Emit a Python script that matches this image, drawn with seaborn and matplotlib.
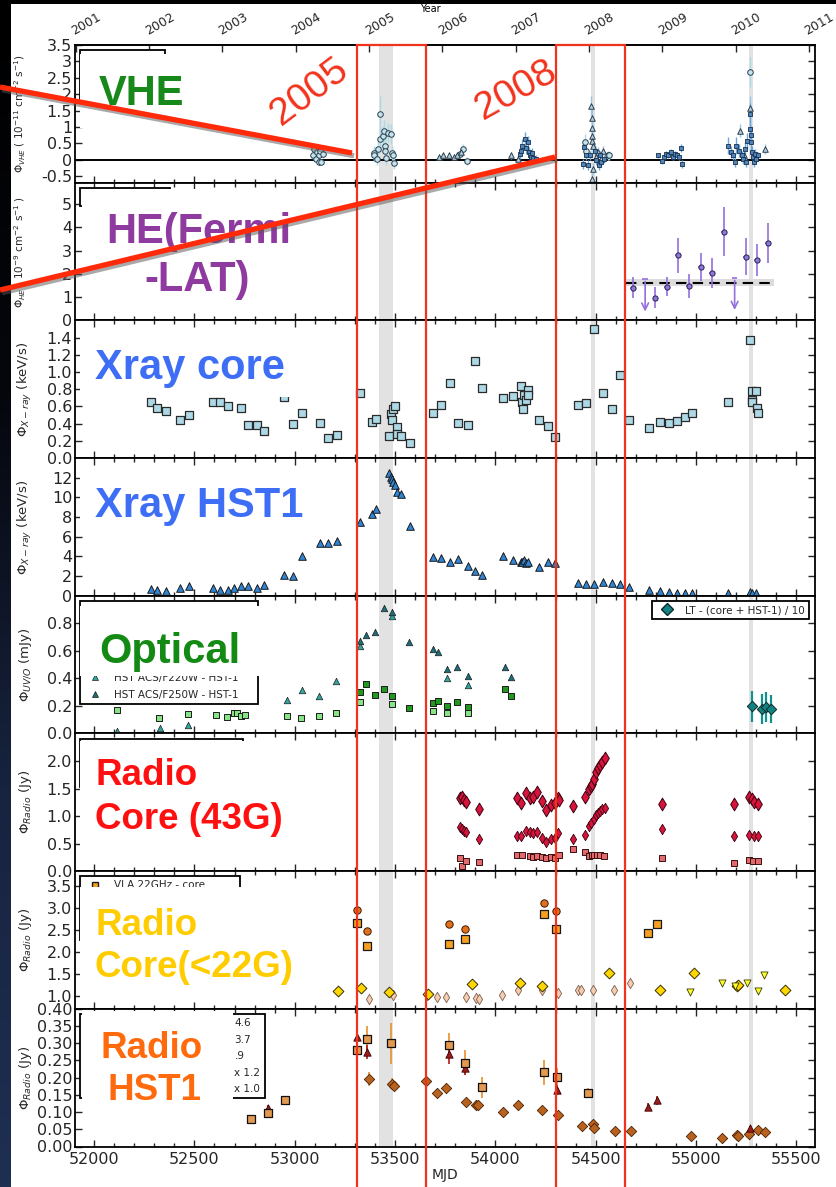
import numpy as np
import matplotlib
matplotlib.use("Agg")
import matplotlib.pyplot as plt
import seaborn as sns
from matplotlib.lines import Line2D
from matplotlib.patches import Rectangle
from matplotlib.ticker import MultipleLocator, FixedLocator
import matplotlib.patheffects as pe

# ------------------------------------------------------------------ data
years = [2001, 2002, 2003, 2004, 2005, 2006, 2007, 2008, 2009, 2010, 2011]
year_mjd = [51910, 52275, 52640, 53005, 53371, 53736, 54101, 54466, 54832, 55197, 55562]

highlight_bands = [(53422, 53488), (54475, 54495), (55263, 55285)]
flare_boxes = [(53310, 53653), (54302, 54645)]
flare_labels = ["2005", "2008"]

# VHE (three instruments)
vhe_hess_mjd = [53093, 53098, 53105, 53111, 53119, 53119, 53127, 53133, 53141,
                53393, 53396, 53408, 53416, 53425, 53427, 53438, 53443, 53448, 53452, 53457, 53464, 53478, 53483, 53490, 53496,
                53825, 53836, 53857,
                54446, 54451, 54560, 54568,
                55268]
vhe_hess_flux = [0.13, 0.33, 0.03, 0.23, 0.13, -0.07, 0.28, -0.07, 0.18,
                 0.21, 0.13, 0.03, 0.33, 1.40, 0.63, 0.73, 0.88, 0.43, 0.28, 0.05, 0.83, 0.78, 0.21, 0.13, -0.10,
                 0.18, 0.33, -0.05,
                 0.53, 0.28, 0.13, 0.13,
                 2.67]
vhe_hess_err = [0.12, 0.12, 0.10, 0.12, 0.10, 0.10, 0.12, 0.10, 0.12,
                0.22, 0.20, 0.20, 0.25, 0.55, 0.28, 0.30, 0.32, 0.25, 0.22, 0.20, 0.30, 0.30, 0.22, 0.20, 0.18,
                0.12, 0.15, 0.12,
                0.25, 0.20, 0.15, 0.15,
                0.45]
vhe_ver_mjd = [53719, 53738, 53769, 53796, 53809, 53830,
               54080, 54114,
               54478, 54479, 54480, 54481, 54483, 54486, 54480, 54488, 54499, 54512, 54525, 54535,
               55219, 55240, 55268, 55341]
vhe_ver_flux = [0.07, 0.13, 0.13, 0.09, 0.13, 0.23,
                0.13, 0.03,
                1.63, 1.28, 0.98, 0.73, 0.58, 0.43, -0.59, -0.27, 0.08, 0.23, 0.03, 0.28,
                0.88, 0.13, 1.58, 0.33]
vhe_ver_err = [0.08, 0.08, 0.08, 0.08, 0.08, 0.10,
               0.10, 0.10,
               0.30, 0.28, 0.25, 0.22, 0.20, 0.20, 0.20, 0.18, 0.15, 0.15, 0.15, 0.15,
               0.20, 0.15, 0.35, 0.15]
vhe_mag_mjd = [54122, 54128, 54133, 54149, 54154, 54162, 54168, 54173, 54178, 54184, 54189, 54200,
               54437, 54441, 54452, 54460, 54470, 54497, 54503, 54517, 54520, 54526, 54540,
               54810, 54828, 54838, 54850, 54860, 54873, 54883, 54893, 54904, 54914, 54925, 54930,
               55157, 55175, 55186, 55196, 55201, 55212, 55228, 55232, 55244, 55249, 55255, 55270, 55271,
               55272, 55274, 55278, 55284, 55289, 55295, 55300, 55306]
vhe_mag_flux = [0.18, 0.28, 0.43, 0.63, 0.35, 0.53, 0.23, 0.15, 0.08, 0.21, 0.05, 0.03,
                -0.12, 0.38, 0.13, -0.17, 0.13, 0.28, -0.02, -0.17, 0.13, -0.07, 0.03,
                0.13, -0.05, 0.08, 0.18, 0.13, 0.23, 0.08, 0.18, 0.13, 0.08, 0.35, -0.12,
                0.43, 0.23, 0.15, -0.07, 0.43, 0.28, 0.13, 0.03, 0.33, -0.07, 0.58, 1.38, 0.93,
                0.75, 0.53, 0.23, 0.08, -0.07, 0.18, 0.03, 0.13]
vhe_mag_err = [0.15, 0.18, 0.20, 0.22, 0.18, 0.20, 0.15, 0.15, 0.12, 0.15, 0.12, 0.12,
               0.15, 0.20, 0.15, 0.15, 0.15, 0.18, 0.15, 0.15, 0.15, 0.15, 0.12,
               0.08, 0.08, 0.08, 0.10, 0.08, 0.10, 0.08, 0.10, 0.08, 0.08, 0.12, 0.12,
               0.25, 0.18, 0.15, 0.15, 0.25, 0.20, 0.15, 0.15, 0.20, 0.15, 0.25, 0.35, 0.30,
               0.28, 0.25, 0.18, 0.15, 0.15, 0.15, 0.12, 0.12]

# HE (Fermi-LAT)
he_mjd = [54685, 54797, 54853, 54911, 54966, 55025, 55078, 55137, 55247, 55303, 55356]
he_flux = [1.41, 0.98, 1.45, 2.80, 1.48, 2.30, 2.03, 3.82, 2.74, 2.60, 3.34]
he_err = [0.45, 0.45, 0.40, 0.75, 0.50, 0.60, 0.65, 1.05, 0.80, 0.70, 0.85]
he_bin_half = [14, 14, 14, 14, 14, 14, 14, 14, 14, 14, 14]
he_ul_mjd = [54746, 55192]
he_ul_flux = [1.80, 1.84]
he_ul_low = [0.26, 0.33]
he_mean = 1.62
he_mean_err = 0.16
he_mean_span = [54653, 55388]

# X-ray core
xc_mjd = [52286, 52313, 52358, 52429, 52475, 52591, 52628, 52666, 52697, 52732, 52769, 52811, 52849, 52947,
          52992, 53037, 53127, 53167, 53210, 53324, 53384, 53403, 53470, 53478, 53483, 53491, 53498, 53509,
          53512, 53531, 53576, 53690, 53727, 53772, 53812, 53862, 53900, 53934, 54037, 54088, 54128, 54133,
          54136, 54141, 54154, 54162, 54164, 54218, 54260, 54295, 54411, 54451, 54491, 54537, 54581, 54619,
          54666, 54767, 54818, 54863, 54903, 54945, 54982, 55157, 55271, 55277, 55279, 55281, 55298, 55304, 55306]
xc_flux = [0.657, 0.587, 0.548, 0.446, 0.50, 0.657, 0.657, 0.602, 0.78, 0.587, 0.39, 0.383, 0.313, 0.71,
           0.391, 0.524, 0.403, 0.235, 0.266, 0.751, 0.422, 0.45, 0.258, 0.508, 0.442, 0.571, 0.602, 0.36,
           0.274, 0.258, 0.172, 0.52, 0.618, 0.872, 0.41, 0.383, 1.13, 0.813, 0.696, 0.716, 0.841, 0.657,
           0.571, 0.735, 0.677, 0.786, 0.735, 0.438, 0.375, 0.246, 0.614, 0.637, 1.498, 0.755, 0.575, 0.962,
           0.438, 0.352, 0.418, 0.41, 0.434, 0.477, 0.52, 0.653, 1.373, 0.782, 0.673, 0.649, 0.774, 0.579, 0.524]

# X-ray HST-1
xh_mjd = [52286, 52313, 52358, 52429, 52475, 52591, 52628, 52666, 52697, 52732, 52769, 52811, 52849, 52947,
          52992, 53037, 53127, 53167, 53210, 53324, 53384, 53403, 53470, 53478, 53483, 53491, 53498, 53509,
          53531, 53576, 53690, 53727, 53772, 53812, 53862, 53900, 53934, 54037, 54088, 54128, 54133, 54141,
          54154, 54162, 54218, 54260, 54295, 54411, 54451, 54491, 54537, 54581, 54619, 54666, 54767, 54818,
          54863, 54903, 54945, 54982, 55157, 55271, 55277, 55298]
xh_flux = [0.69, 0.55, 0.51, 0.75, 0.96, 0.75, 0.55, 0.58, 0.82, 0.99, 0.99, 0.79, 1.10, 2.09,
           1.99, 4.01, 5.35, 5.35, 5.59, 7.47, 8.30, 8.78, 12.44, 12.1, 11.86, 11.59, 11.24, 10.56,
           10.32, 7.13, 3.98, 3.81, 3.46, 3.74, 3.05, 2.5, 2.13, 4.01, 3.63, 3.46, 3.46, 3.63,
           3.29, 3.46, 2.95, 3.46, 3.33, 1.30, 1.20, 1.20, 1.44, 1.30, 1.20, 0.89, 0.55, 0.45,
           0.38, 0.31, 0.31, 0.31, 0.27, 0.34, 0.27, 0.27]

# Optical / UV
opt_f220_mjd = [52116, 52328, 52467, 52963, 53034, 53119, 53204, 53326, 53486, 53759, 53862]
opt_f220_flux = [0.02, 0.04, 0.06, 0.245, 0.318, 0.274, 0.384, 0.636, 0.856, 0.40, 0.355]
opt_f250_mjd = [53324, 53353, 53398, 53443, 53486, 53568, 53687, 53714, 53759, 53809, 53862, 54050, 54080]
opt_f250_flux = [0.673, 0.717, 0.739, 0.91, 0.881, 0.665, 0.612, 0.592, 0.47, 0.482, 0.416, 0.484, 0.411]
opt_sqa_mjd = [52116, 52325, 52467, 52610, 52664, 52695, 52713, 52730, 52754, 52963, 53031, 53121, 53204,
               53326, 53486, 53687, 53759, 53862]
opt_sqa_flux = [0.171, 0.11, 0.142, 0.137, 0.122, 0.147, 0.152, 0.127, 0.135, 0.127, 0.115, 0.127, 0.147,
                0.225, 0.215, 0.166, 0.147, 0.147]
opt_sqb_mjd = [53324, 53353, 53398, 53443, 53486, 53568, 53687, 53714, 53759, 53809, 53862, 54050, 54080]
opt_sqb_flux = [0.30, 0.362, 0.276, 0.325, 0.269, 0.188, 0.22, 0.232, 0.196, 0.228, 0.191, 0.323, 0.274]
lt_mjd = [55277, 55330, 55349, 55373]
lt_flux = [0.196, 0.176, 0.19, 0.176]
lt_err = [0.11, 0.11, 0.11, 0.10]

# Radio core 43 GHz
r43_a_mjd = [53823, 53831, 53841, 53854, 53918, 54109, 54128, 54154, 54170, 54189, 54207, 54234, 54252,
             54276, 54295, 54311, 54318, 54385, 54446, 54467, 54475, 54483, 54491, 54499, 54512, 54520,
             54531, 54544, 54829, 55190, 55263, 55277, 55290, 55306]
r43_a_flux = [1.32, 1.35, 1.29, 1.26, 1.12, 1.33, 1.24, 1.41, 1.32, 1.34, 1.43, 1.28, 1.11,
              1.20, 1.24, 1.32, 1.30, 1.19, 1.34, 1.49, 1.54, 1.59, 1.68, 1.80, 1.87, 1.93,
              1.99, 2.05, 1.22, 1.22, 1.34, 1.31, 1.26, 1.22]
r43_b_mjd = [53823, 53831, 53841, 53854, 53918, 54109, 54128, 54154, 54170, 54189, 54207, 54234, 54252,
             54276, 54295, 54311, 54385, 54446, 54467, 54478, 54491, 54499, 54512, 54520, 54531, 54544,
             54829, 55190, 55263, 55290, 55306]
r43_b_flux = [0.80, 0.77, 0.73, 0.71, 0.58, 0.64, 0.63, 0.73, 0.71, 0.70, 0.71, 0.61, 0.52,
              0.58, 0.61, 0.69, 0.58, 0.65, 0.82, 0.87, 0.95, 1.01, 1.05, 1.10, 1.13, 1.14,
              0.77, 0.64, 0.65, 0.64, 0.63]
r43_c_mjd = [53823, 53831, 53854, 53918, 54109, 54133, 54170, 54189, 54207, 54234, 54252, 54276, 54295,
             54318, 54385, 54446, 54467, 54480, 54493, 54506, 54520, 54539, 54829, 55190, 55263, 55285, 55306]
r43_c_flux = [0.23, 0.10, 0.18, 0.17, 0.29, 0.29, 0.27, 0.26, 0.27, 0.26, 0.24, 0.26, 0.23,
              0.30, 0.40, 0.35, 0.27, 0.30, 0.29, 0.29, 0.29, 0.27, 0.24, 0.15, 0.20, 0.18, 0.18]

# Radio core < 22 GHz
r22_circ_mjd = [53310, 53358, 53767, 53849, 54240, 54303]
r22_circ_flux = [2.97, 2.48, 2.63, 2.52, 3.11, 2.94]
r22_sq_mjd = [53310, 53358, 53767, 53849, 54240, 54303, 54759, 54807]
r22_sq_flux = [2.67, 2.13, 2.18, 2.29, 2.88, 2.52, 2.44, 2.65]
r22_gold_mjd = [53215, 53332, 53470, 53666, 53883, 54122, 54234, 54566, 54818, 54990, 55202, 55210, 55441]
r22_gold_flux = [1.10, 1.18, 1.08, 1.04, 1.27, 1.28, 1.22, 1.52, 1.12, 1.52, 1.22, 1.25, 1.14]
r22_tan_mjd = [53371, 53491, 53658, 53709, 53756, 53854, 53902, 53916, 54035, 54114, 54234, 54313, 54411,
               54424, 54486, 54592, 54672]
r22_tan_flux = [0.92, 1.02, 1.02, 0.98, 0.98, 0.96, 0.94, 0.92, 1.02, 1.12, 1.12, 1.06, 1.12,
                1.14, 1.13, 1.12, 1.28]
r22_tri_mjd = [54969, 55131, 55194, 55255, 55309, 55336]
r22_tri_flux = [1.08, 1.28, 1.23, 1.28, 1.10, 1.48]

# Radio HST-1
rh_sq_mjd = [52782, 52867, 52949, 53310, 53358, 53480, 53767, 53849, 53931, 54242, 54306, 54462]
rh_sq_flux = [0.081, 0.098, 0.134, 0.281, 0.311, 0.30, 0.296, 0.244, 0.172, 0.215, 0.203, 0.156]
rh_sq_err = [0.005, 0.008, 0.012, 0.03, 0.04, 0.06, 0.035, 0.035, 0.03, 0.035, 0.025, 0.015]
rh_tri_mjd = [52867, 53310, 53358, 53767, 53849, 54306, 54759, 54807, 55270]
rh_tri_flux = [0.112, 0.317, 0.275, 0.27, 0.229, 0.164, 0.115, 0.134, 0.054]
rh_tri_err = [0.01, 0.02, 0.02, 0.03, 0.02, 0.015, 0.01, 0.012, 0.006]
rh_dia_mjd = [53371, 53486, 53497, 53655, 53709, 53756, 53854, 53905, 53912, 54037, 54114, 54234, 54313,
              54430, 54486, 54490, 54597, 54674, 54974, 55131, 55202, 55210, 55263, 55306, 55341]
rh_dia_flux = [0.195, 0.183, 0.175, 0.191, 0.156, 0.171, 0.128, 0.122, 0.12, 0.101, 0.121, 0.106, 0.091,
               0.059, 0.066, 0.055, 0.046, 0.046, 0.031, 0.024, 0.034, 0.031, 0.036, 0.047, 0.042]
rh_dia_err = [0.02, 0.015, 0.012, 0.015, 0.01, 0.012, 0.01, 0.01, 0.01, 0.008, 0.008, 0.008, 0.008,
              0.006, 0.006, 0.006, 0.005, 0.005, 0.004, 0.004, 0.004, 0.004, 0.004, 0.004, 0.004]

# axis labels / ticks
ylabels = [r"$\Phi_{VHE}$ ( $10^{-11}$ cm$^{-2}$ s$^{-1}$)",
           r"$\Phi_{HE}$ ( $10^{-9}$ cm$^{-2}$ s$^{-1}$ )",
           r"$\Phi_{X-ray}$ (keV/s)",
           r"$\Phi_{X-ray}$ (keV/s)",
           r"$\Phi_{UV/O}$ (mJy)",
           r"$\Phi_{Radio}$ (Jy)",
           r"$\Phi_{Radio}$ (Jy)",
           r"$\Phi_{Radio}$ (Jy)"]
vhe_ticks = [-0.5, 0, 0.5, 1, 1.5, 2, 2.5, 3, 3.5]
vhe_ticklabels = ["-0.5", "0", "0.5", "1", "1.5", "2", "2.5", "3", "3.5"]
panel_titles = [["VHE"], ["HE(Fermi", "-LAT)"], ["Xray core"], ["Xray HST1"], ["Optical"],
                ["Radio", "Core (43G)"], ["Radio", "Core(<22G)"], ["Radio", "HST1"]]
hst1_radio_legend = ["4.6", "3.7", ".9", "x 1.2", "x 1.0"]

# ------------------------------------------------------------------ style
sns.set_theme(style="ticks")
plt.rcParams["font.family"] = ["DejaVu Sans"]
plt.rcParams["mathtext.fontset"] = "dejavusans"
plt.rcParams["axes.linewidth"] = 1.2

W, H = 836, 1187
fig = plt.figure(figsize=(8.36, 11.87), dpi=100, facecolor="white")


def fx(x):
    return x / W


def fy(y):
    return 1 - y / H


AX_L, AX_R, AX_T, AX_B = 75, 814.5, 45, 1146.5
gs = fig.add_gridspec(8, 1, left=fx(AX_L), right=fx(AX_R), top=fy(AX_T), bottom=fy(AX_B), hspace=0)
axes = gs.subplots(sharex=True)

for i, ax in enumerate(axes):
    ax.set_xlim(51905, 55590)
    ax.xaxis.set_major_locator(MultipleLocator(500))
    ax.xaxis.set_minor_locator(MultipleLocator(100))
    ax.tick_params(axis="x", which="both", direction="in", top=(i > 0), bottom=True, width=1)
    ax.tick_params(axis="x", which="major", length=5, labelsize=11.5, pad=4)
    ax.tick_params(axis="x", which="minor", length=3)
    ax.tick_params(axis="y", which="major", direction="in", left=True, right=True, length=5, width=1,
                   labelsize=11.5, pad=2)
    ax.tick_params(axis="y", which="minor", left=False, right=False)
    for s in ax.spines.values():
        s.set_linewidth(1.3)
        s.set_color("black")
    for a, b in highlight_bands:
        ax.axvspan(a, b, color="#e2e2e2", lw=0, zorder=0)
    ax.set_ylabel(ylabels[i], fontsize=9.5 if i > 1 else 7.5, labelpad=0)
    ax.yaxis.set_label_coords(-0.056 if i > 1 else -0.064, 0.5)
    if i < 7:
        ax.tick_params(axis="x", labelbottom=False)

# ---- panel 0: VHE
ax = axes[0]
ax.axhline(0, color="black", lw=1.4, zorder=1)
ax.errorbar(vhe_hess_mjd, vhe_hess_flux, yerr=vhe_hess_err, fmt="none", ecolor="#a9dbe6", elinewidth=1, zorder=2)
ax.errorbar(vhe_ver_mjd, vhe_ver_flux, yerr=vhe_ver_err, fmt="none", ecolor="#9cc3e0", elinewidth=1, zorder=2)
ax.errorbar(vhe_mag_mjd, vhe_mag_flux, yerr=vhe_mag_err, fmt="none", ecolor="#6aa6d8", elinewidth=1, zorder=2)
sns.scatterplot(x=vhe_hess_mjd, y=vhe_hess_flux, ax=ax, marker="o", s=16, color="#c6e4ee",
                edgecolor="#2a3f4f", linewidth=0.7, zorder=3, legend=False)
sns.scatterplot(x=vhe_ver_mjd, y=vhe_ver_flux, ax=ax, marker="^", s=16, color="#b8cfdf",
                edgecolor="#2a3f4f", linewidth=0.7, zorder=3, legend=False)
sns.scatterplot(x=vhe_mag_mjd, y=vhe_mag_flux, ax=ax, marker="s", s=9, color="#4b86c2",
                edgecolor="#1d2f45", linewidth=0.6, zorder=3, legend=False)
ax.set_ylim(-0.7, 3.5)
ax.yaxis.set_major_locator(FixedLocator(vhe_ticks))
ax.set_yticklabels(vhe_ticklabels)

sec = ax.secondary_xaxis("top")
sec.set_xticks(year_mjd)
sec.set_xticklabels([str(y) for y in years], rotation=30, ha="left", rotation_mode="anchor", fontsize=9)
sec.tick_params(axis="x", direction="in", length=5, width=1, pad=5)

# ---- panel 1: HE
ax = axes[1]
ax.fill_between(he_mean_span, [he_mean - he_mean_err] * 2, [he_mean + he_mean_err] * 2,
                color="#dcdcdc", lw=0, zorder=1)
ax.plot(he_mean_span, [he_mean, he_mean], color="black", ls="--", lw=1.5, dashes=(5, 3), zorder=2)
ax.errorbar(he_mjd, he_flux, xerr=he_bin_half, yerr=he_err, fmt="none", ecolor="#9370db", elinewidth=1.2, zorder=3)
ax.errorbar(he_ul_mjd, he_ul_flux, xerr=he_bin_half[:2], fmt="none", ecolor="#9370db", elinewidth=1.2, zorder=3)
for m, top, low in zip(he_ul_mjd, he_ul_flux, he_ul_low):
    ax.annotate("", xy=(m, low), xytext=(m, top),
                arrowprops=dict(arrowstyle="->", color="#9370db", lw=1.2), zorder=3)
sns.scatterplot(x=he_mjd, y=he_flux, ax=ax, marker="o", s=14, color="#8c7ad6",
                edgecolor="#2a1f55", linewidth=0.7, zorder=4, legend=False)
ax.set_ylim(0, 5.93)
ax.yaxis.set_major_locator(FixedLocator([0, 1, 2, 3, 4, 5]))
ax.set_yticklabels(["0", "1", "2", "3", "4", "5"])

# ---- panel 2: X-ray core
ax = axes[2]
sns.scatterplot(x=xc_mjd, y=xc_flux, ax=ax, marker="s", s=30, color="#add8e6",
                edgecolor="#2b2b2b", linewidth=0.9, zorder=3, legend=False)
ax.set_ylim(0, 1.6)
ax.yaxis.set_major_locator(FixedLocator([0, 0.2, 0.4, 0.6, 0.8, 1.0, 1.2, 1.4]))
ax.set_yticklabels(["0.0", "0.2", "0.4", "0.6", "0.8", "1.0", "1.2", "1.4"])

# ---- panel 3: X-ray HST-1
ax = axes[3]
sns.scatterplot(x=xh_mjd, y=xh_flux, ax=ax, marker="^", s=30, color="#2f86d6",
                edgecolor="#1a1a1a", linewidth=0.7, zorder=3, legend=False)
ax.set_ylim(0, 14)
ax.yaxis.set_major_locator(FixedLocator([0, 2, 4, 6, 8, 10, 12]))
ax.set_yticklabels(["0", "2", "4", "6", "8", "10", "12"])

# ---- panel 4: Optical
ax = axes[4]
sns.scatterplot(x=opt_sqa_mjd, y=opt_sqa_flux, ax=ax, marker="s", s=24, color="#86e486",
                edgecolor="#1c1c1c", linewidth=0.7, zorder=3, legend=False)
sns.scatterplot(x=opt_sqb_mjd, y=opt_sqb_flux, ax=ax, marker="s", s=24, color="#1f9a1f",
                edgecolor="#1c1c1c", linewidth=0.7, zorder=3, legend=False)
sns.scatterplot(x=opt_f220_mjd, y=opt_f220_flux, ax=ax, marker="^", s=22, color="#2fa7a0",
                edgecolor="#1c1c1c", linewidth=0.5, zorder=3, legend=False)
sns.scatterplot(x=opt_f250_mjd, y=opt_f250_flux, ax=ax, marker="^", s=22, color="#1d6e78",
                edgecolor="#1c1c1c", linewidth=0.5, zorder=3, legend=False)
ax.errorbar(lt_mjd, lt_flux, yerr=lt_err, fmt="none", ecolor="#13908f", elinewidth=1.6, zorder=2)
sns.scatterplot(x=lt_mjd, y=lt_flux, ax=ax, marker="D", s=28, color="#128282",
                edgecolor="#0b2a2a", linewidth=0.7, zorder=3, legend=False)
ax.set_ylim(0, 1.0)
ax.yaxis.set_major_locator(FixedLocator([0, 0.2, 0.4, 0.6, 0.8]))
ax.set_yticklabels(["0.0", "0.2", "0.4", "0.6", "0.8"])

# ---- panel 5: Radio core 43 GHz
ax = axes[5]
sns.scatterplot(x=r43_c_mjd, y=r43_c_flux, ax=ax, marker="s", s=24, color="#e26a6f",
                edgecolor="#3a1010", linewidth=0.7, zorder=3, legend=False)
sns.scatterplot(x=r43_b_mjd, y=r43_b_flux, ax=ax, marker="d", s=28, color="#d8143c",
                edgecolor="#3a0010", linewidth=0.6, zorder=3, legend=False)
sns.scatterplot(x=r43_a_mjd, y=r43_a_flux, ax=ax, marker="d", s=42, color="#d8143c",
                edgecolor="#3a0010", linewidth=0.7, zorder=4, legend=False)
ax.set_ylim(0, 2.5)
ax.yaxis.set_major_locator(FixedLocator([0, 0.5, 1.0, 1.5, 2.0]))
ax.set_yticklabels(["0.0", "0.5", "1.0", "1.5", "2.0"])

# ---- panel 6: Radio core < 22 GHz
ax = axes[6]
sns.scatterplot(x=r22_tan_mjd, y=r22_tan_flux, ax=ax, marker="d", s=28, color="#f6cdb0",
                edgecolor="#7a6050", linewidth=0.6, zorder=3, legend=False)
sns.scatterplot(x=r22_gold_mjd, y=r22_gold_flux, ax=ax, marker="D", s=30, color="#ffd700",
                edgecolor="#3a3000", linewidth=0.7, zorder=3, legend=False)
sns.scatterplot(x=r22_tri_mjd, y=r22_tri_flux, ax=ax, marker="v", s=26, color="#ffff30",
                edgecolor="#3a3a00", linewidth=0.6, zorder=3, legend=False)
sns.scatterplot(x=r22_circ_mjd, y=r22_circ_flux, ax=ax, marker="o", s=28, color="#e2701a",
                edgecolor="#3a1a00", linewidth=0.7, zorder=3, legend=False)
sns.scatterplot(x=r22_sq_mjd, y=r22_sq_flux, ax=ax, marker="s", s=30, color="#f7a020",
                edgecolor="#1a1a1a", linewidth=0.9, zorder=3, legend=False)
ax.set_ylim(0.7, 3.85)
ax.yaxis.set_major_locator(FixedLocator([1.0, 1.5, 2.0, 2.5, 3.0, 3.5]))
ax.set_yticklabels(["1.0", "1.5", "2.0", "2.5", "3.0", "3.5"])

# ---- panel 7: Radio HST-1
ax = axes[7]
ax.errorbar(rh_dia_mjd, rh_dia_flux, yerr=rh_dia_err, fmt="none", ecolor="#e8902a", elinewidth=1.2, zorder=2)
ax.errorbar(rh_sq_mjd, rh_sq_flux, yerr=rh_sq_err, fmt="none", ecolor="#e8902a", elinewidth=1.2, zorder=2)
ax.errorbar(rh_tri_mjd, rh_tri_flux, yerr=rh_tri_err, fmt="none", ecolor="#b01818", elinewidth=1.2, zorder=2)
sns.scatterplot(x=rh_dia_mjd, y=rh_dia_flux, ax=ax, marker="D", s=28, color="#b8621f",
                edgecolor="#4a2000", linewidth=0.6, zorder=3, legend=False)
sns.scatterplot(x=rh_tri_mjd, y=rh_tri_flux, ax=ax, marker="^", s=28, color="#9b1c1c",
                edgecolor="#3a0000", linewidth=0.6, zorder=3, legend=False)
sns.scatterplot(x=rh_sq_mjd, y=rh_sq_flux, ax=ax, marker="s", s=32, color="#e39a50",
                edgecolor="#111111", linewidth=0.9, zorder=4, legend=False)
ax.set_ylim(0, 0.40)
ax.yaxis.set_major_locator(FixedLocator([0, 0.05, 0.1, 0.15, 0.2, 0.25, 0.3, 0.35, 0.4]))
ax.set_yticklabels(["0.00", "0.05", "0.10", "0.15", "0.20", "0.25", "0.30", "0.35", "0.40"])
ax.set_xlabel("MJD", fontsize=10, labelpad=1)

# ------------------------------------------------------------------ legends (mostly covered)
LEG_FS = 7.5
AXW = AX_R - AX_L
PAD = 0.5 * LEG_FS * 100 / 72


def blank():
    return Line2D([], [], ls="none", marker="none")


def frame_legend(ax, handles, labels, frame_w, handlelength=2.0, spacing=0.5):
    leg = ax.legend(handles, labels, loc="upper left", bbox_to_anchor=(0, 0, (frame_w + 2 * PAD) / AXW, 1),
                    mode="expand", fontsize=LEG_FS, frameon=True, fancybox=False, framealpha=1,
                    edgecolor="black", borderaxespad=0.5, handlelength=handlelength, labelspacing=spacing)
    leg.get_frame().set_linewidth(1.3)
    return leg


frame_legend(axes[0], [blank(), blank(), blank()], [" ", " ", " "], 85)
frame_legend(axes[1], [blank()], [" "], 90)
tri = dict(ls="none", marker="^", mec="#1c1c1c", ms=5, mew=0.5)
leg_opt = frame_legend(axes[4],
                       [blank(), blank(), blank(), blank(),
                        Line2D([], [], mfc="#2fa7a0", **tri), Line2D([], [], mfc="#1d6e78", **tri)],
                       [" ", " ", " ", " ", "HST ACS/F220W - HST-1", "HST ACS/F250W - HST-1"], 178, spacing=0.66)
axes[4].add_artist(leg_opt)
lt_leg = axes[4].legend([Line2D([], [], ls="none", marker="D", mfc="#128282", mec="#0b2a2a", ms=6)],
                        ["LT - (core + HST-1) / 10"], loc="upper right", fontsize=LEG_FS, frameon=True,
                        fancybox=False, framealpha=1, edgecolor="black", borderaxespad=0.5)
lt_leg.get_frame().set_linewidth(1.3)
frame_legend(axes[5], [blank(), blank(), blank()], [" ", " ", " "], 163)
frame_legend(axes[6], [Line2D([], [], ls="none", marker="s", mfc="#f7a020", mec="#1a1a1a", ms=5), blank(),
                       blank(), blank()], ["VLA 22GHz - core", " ", " ", " "], 160)
frame_legend(axes[7], [blank()] * 5, hst1_radio_legend, 185, handlelength=13.6, spacing=0.62)

# ------------------------------------------------------------------ panel title boxes
label_boxes = [(79.5, 53.5, 250, 128), (81.5, 189, 300, 312), (79.5, 330, 300, 397), (79.5, 470, 312, 530),
               (79.5, 605.5, 262, 676), (79.5, 741, 300, 850), (79.5, 887, 305, 1002), (81.5, 1011, 233, 1105)]
label_colors = ["#17891b", "#8e3a9e", "#3d6ef5", "#3d6ef5", "#138a13", "#ff1010", "#ffcc00", "#ff6a0d"]
label_sizes = [30, 30, 30, 30, 30, 26.5, 26.5, 26.5]
label_lines = [[(99, 105, "left")], [(199, 243, "center"), (197.5, 291, "center")], [(95, 379, "left")],
               [(95, 517, "left")], [(99, 663, "left")], [(95, 785, "left"), (95, 829, "left")],
               [(95, 935, "left"), (95, 977, "left")], [(152, 1058, "center"), (154.5, 1100, "center")]]

for box, col, size, lines, texts in zip(label_boxes, label_colors, label_sizes, label_lines, panel_titles):
    x0, y0, x1, y1 = box
    fig.add_artist(Rectangle((fx(x0), fy(y1)), (x1 - x0) / W, (y1 - y0) / H, transform=fig.transFigure,
                             facecolor="white", edgecolor="none", zorder=5))
    for (tx, ty, ha), t in zip(lines, texts):
        fig.text(fx(tx), fy(ty), t, fontsize=size, color=col, fontweight="bold", family="Liberation Sans",
                 ha=ha, va="baseline", zorder=6)

# ------------------------------------------------------------------ background frame
strip = fig.add_axes([0, 0, fx(11), 1])
grad = np.linspace(0, 1, 256).reshape(-1, 1)
strip.imshow(grad, aspect="auto", cmap=matplotlib.colors.LinearSegmentedColormap.from_list(
    "bg", ["#000000", "#05070d", "#17233f", "#1f2f52"]), extent=[0, 1, 0, 1], origin="upper")
strip.axis("off")
strip.set_zorder(-1)
fig.add_artist(Rectangle((0, fy(4)), 1, 4 / H, transform=fig.transFigure, facecolor="black",
                         edgecolor="none", zorder=20))
fig.text(fx(430), fy(12.5), "Year", fontsize=7, color="black", ha="center", va="baseline", zorder=6)

# ------------------------------------------------------------------ red annotations
RED = "#f2321c"
to_fig = fig.transFigure.inverted()
top_fy = fy(AX_T)
for (a, b) in flare_boxes:
    xa = to_fig.transform(axes[0].transData.transform((a, 0)))[0]
    xb = to_fig.transform(axes[0].transData.transform((b, 0)))[0]
    fig.add_artist(Rectangle((xa, -0.01), xb - xa, top_fy + 0.01, transform=fig.transFigure,
                             facecolor="none", edgecolor=RED, lw=1.6, zorder=10))

shadow = [pe.SimpleLineShadow(offset=(1.5, -2), shadow_color="#555555", alpha=0.5), pe.Normal()]
fig.add_artist(Line2D([fx(0), fx(352)], [fy(87), fy(153)], transform=fig.transFigure, color="#ff2a0a",
                      lw=3.8, solid_capstyle="butt", path_effects=shadow, zorder=11))
fig.add_artist(Line2D([fx(0), fx(555)], [fy(290), fy(157)], transform=fig.transFigure, color="#ff2a0a",
                      lw=3.8, solid_capstyle="butt", path_effects=shadow, zorder=11))

fig.text(fx(310), fy(92), flare_labels[0], fontsize=28, color=RED, family="Liberation Sans", rotation=37,
         ha="center", va="center", rotation_mode="anchor", zorder=12)
fig.text(fx(516), fy(90), flare_labels[1], fontsize=28, color=RED, family="Liberation Sans", rotation=29,
         ha="center", va="center", rotation_mode="anchor", zorder=12)

fig.savefig("out.png", dpi=100, facecolor="white")
